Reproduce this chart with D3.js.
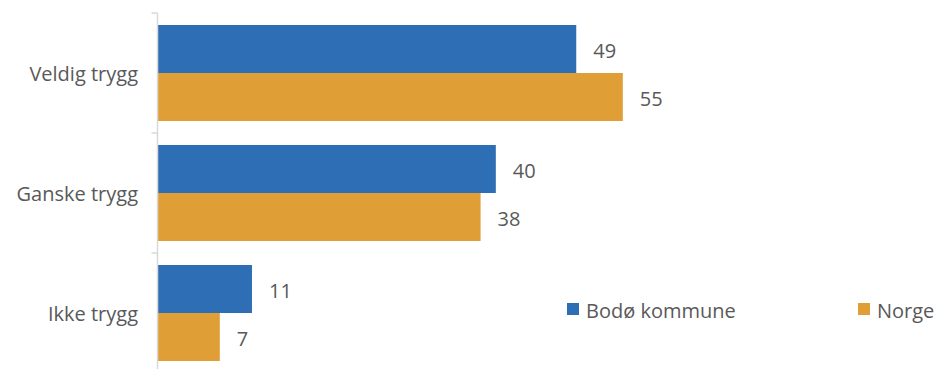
<!DOCTYPE html>
<html><head><meta charset="utf-8">
<script src="https://cdn.jsdelivr.net/npm/d3@7/dist/d3.min.js"></script>
<style>body{margin:0;background:#fff}svg{display:block}text{font-family:"Open Sans","Noto Sans",sans-serif;fill:#595959}</style>
</head><body>
<svg id="c" width="937" height="369"></svg>
<script>
const categories = ["Veldig trygg", "Ganske trygg", "Ikke trygg"];
const seriesNames = ["Bodø kommune", "Norge"];
const bodo = [49.4, 39.9, 11.1];
const norge = [54.9, 38.1, 7.3];
const colors = ["#2E6EB5", "#E09F36"];

const svg = d3.select("#c");
const fontSize = 20;
const x = d3.scaleLinear().domain([0, 60]).range([158, 158 + 508]);
const y = d3.scaleBand().domain(categories).range([13, 373]).paddingInner(0.2).paddingOuter(0.1);
const y1 = d3.scaleBand().domain(seriesNames).range([0, y.bandwidth()]);

const data = categories.map((c, i) => ({cat: c, vals: [bodo[i], norge[i]]}));

const g = svg.append("g");
data.forEach(d => {
  d.vals.forEach((v, j) => {
    g.append("rect")
      .attr("x", x(0)).attr("y", y(d.cat) + y1(seriesNames[j]))
      .attr("width", x(v) - x(0)).attr("height", y1.bandwidth())
      .attr("fill", colors[j]);
    g.append("text")
      .attr("x", x(v) + 17).attr("y", y(d.cat) + y1(seriesNames[j]) + y1.bandwidth() / 2 + 1.5)
      .attr("dy", "0.36em").attr("font-size", fontSize)
      .text(d3.format(".0f")(v));
  });
});

// axis
const axisG = svg.append("g").attr("transform", `translate(${x(0) - 0.5},0)`);
const bounds = [13, 133, 253, 373];
axisG.append("line").attr("x1", 0).attr("x2", 0).attr("y1", 13).attr("y2", 369)
  .attr("stroke", "#d9d9d9").attr("stroke-width", 1.5);
bounds.forEach(b => axisG.append("line").attr("x1", -6).attr("x2", 0).attr("y1", b).attr("y2", b)
  .attr("stroke", "#d9d9d9").attr("stroke-width", 1.5));
categories.forEach(c => {
  svg.append("text").attr("x", 138).attr("y", y(c) + y.bandwidth() / 2 + 1)
    .attr("dy", "0.36em").attr("text-anchor", "end").attr("font-size", fontSize)
    .attr("textLength", null).text(c);
});

// legend
const legendX = [567, 858];
seriesNames.forEach((s, j) => {
  svg.append("rect").attr("x", legendX[j]).attr("y", 303).attr("width", 12).attr("height", 12).attr("fill", colors[j]);
  svg.append("text").attr("x", legendX[j] + 19).attr("y", 310.5).attr("dy", "0.36em")
    .attr("font-size", fontSize).text(s);
});
</script>
</body></html>
